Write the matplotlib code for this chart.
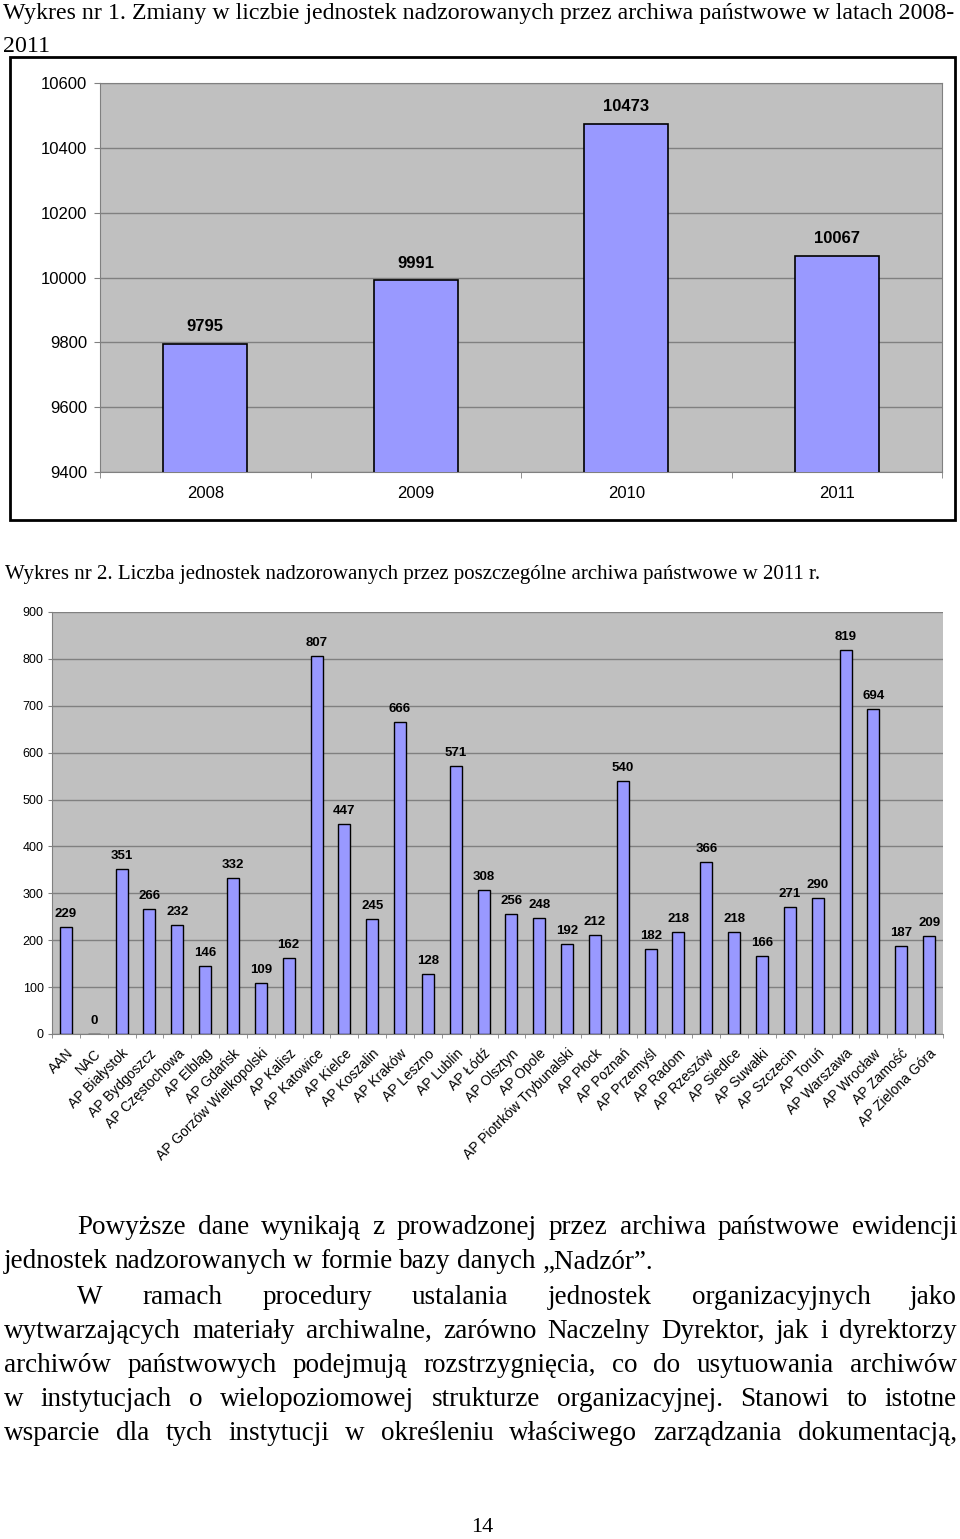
import matplotlib
matplotlib.use('Agg')
import matplotlib.pyplot as plt
import numpy as np
from matplotlib.patches import Rectangle

W, H = 960, 1539

years = ['2008', '2009', '2010', '2011']
units_by_year = [9795, 9991, 10473, 10067]

archives = ['AAN', 'NAC', 'AP Białystok', 'AP Bydgoszcz', 'AP Częstochowa', 'AP Elbląg',
            'AP Gdańsk', 'AP Gorzów Wielkopolski', 'AP Kalisz', 'AP Katowice', 'AP Kielce',
            'AP Koszalin', 'AP Kraków', 'AP Leszno', 'AP Lublin', 'AP Łódź', 'AP Olsztyn',
            'AP Opole', 'AP Piotrków Trybunalski', 'AP Płock', 'AP Poznań', 'AP Przemyśl',
            'AP Radom', 'AP Rzeszów', 'AP Siedlce', 'AP Suwałki', 'AP Szczecin', 'AP Toruń',
            'AP Warszawa', 'AP Wrocław', 'AP Zamość', 'AP Zielona Góra']
units_2011 = [229, 0, 351, 266, 232, 146, 332, 109, 162, 807, 447, 245, 666, 128, 571, 308,
              256, 248, 192, 212, 540, 182, 218, 366, 218, 166, 271, 290, 819, 694, 187, 209]

title1 = 'Wykres nr 1. Zmiany w liczbie jednostek nadzorowanych przez archiwa państwowe w latach 2008-'
title1b = '2011'
title2 = 'Wykres nr 2. Liczba jednostek nadzorowanych przez poszczególne archiwa państwowe w 2011 r.'

# (line, indented, justified)
paragraph = [
    ('Powyższe dane wynikają z prowadzonej przez archiwa państwowe ewidencji', True, True),
    ('jednostek nadzorowanych w formie bazy danych „Nadzór”.', False, False),
    ('W ramach procedury ustalania jednostek organizacyjnych jako', True, True),
    ('wytwarzających materiały archiwalne, zarówno Naczelny Dyrektor, jak i dyrektorzy', False, True),
    ('archiwów państwowych podejmują rozstrzygnięcia, co do usytuowania archiwów', False, True),
    ('w instytucjach o wielopoziomowej strukturze organizacyjnej. Stanowi to istotne', False, True),
    ('wsparcie dla tych instytucji w określeniu właściwego zarządzania dokumentacją,', False, True),
]

BAR = '#9999ff'
BG = '#c0c0c0'
GRID = '#808080'
SANS = 'Liberation Sans'
SERIF = 'Liberation Serif'


def box(x0, y0, x1, y1):
    """pixel box (top-left origin) -> figure rect"""
    return [x0 / W, 1 - y1 / H, (x1 - x0) / W, (y1 - y0) / H]


fig = plt.figure(figsize=(W / 100, H / 100), dpi=100)
fig.patch.set_facecolor('white')
renderer = fig.canvas.get_renderer()


def fit_text(x, y, s, width_px, **kw):
    t = fig.text(x / W, 1 - y / H, s, fontsize=10, va='center', ha='left', **kw)
    w = t.get_window_extent(renderer).width
    t.set_fontsize(10 * width_px / w)
    return t


def justified_line(s, x0, x1, y, fs, justify):
    words = s.split(' ')
    texts = [fig.text(0, 1 - y / H, w, fontsize=fs, family=SERIF, va='center', ha='left')
             for w in words]
    widths = [t.get_window_extent(renderer).width for t in texts]
    if justify and len(words) > 1:
        gap = (x1 - x0 - sum(widths)) / (len(words) - 1)
    else:
        gap = fs * 100 / 72 * 0.25
    x = x0
    for t, w in zip(texts, widths):
        t.set_x(x / W)
        x += w + gap


# ---- titles
t1 = fit_text(3, 14, title1, 952, family=SERIF)
fig.text(3 / W, 1 - 46 / H, title1b, fontsize=t1.get_fontsize(), family=SERIF,
         va='center', ha='left')
fit_text(5, 575, title2, 813, family=SERIF)

# ---- chart 1 frame
fig.patches.append(Rectangle((10 / W, 1 - 520 / H), 945 / W, 463 / H, transform=fig.transFigure,
                             fill=False, edgecolor='black', linewidth=2))

ax1 = fig.add_axes(box(100, 83, 942, 472))
ax1.set_facecolor(BG)
x = np.arange(len(years))
ax1.bar(x, units_by_year, width=0.4, color=BAR, edgecolor='black', linewidth=1.2, zorder=3)
ax1.set_ylim(9400, 10600)
ax1.set_xlim(-0.5, len(years) - 0.5)
ax1.set_yticks(np.arange(9400, 10601, 200))
ax1.grid(axis='y', color=GRID, linewidth=1, zorder=0)
ax1.set_xticks(x)
ax1.set_xticklabels(years)
ax1.set_xticks(np.arange(-0.5, len(years), 1), minor=True)
ax1.tick_params(axis='x', which='major', length=0, pad=10, labelsize=12)
ax1.tick_params(axis='x', which='minor', length=4, color=GRID)
ax1.tick_params(axis='y', length=4, color=GRID, pad=5, labelsize=12)
for lab in ax1.get_xticklabels() + ax1.get_yticklabels():
    lab.set_family(SANS)
for sp in ax1.spines.values():
    sp.set_color(GRID)
for xi, v in zip(x, units_by_year):
    ax1.annotate(str(v), (xi, v), xytext=(0, 7), textcoords='offset points', ha='center',
                 va='bottom', fontsize=12, fontweight='bold', family=SANS)

# ---- chart 2
ax2 = fig.add_axes(box(52, 612, 943, 1034))
ax2.set_facecolor(BG)
x2 = np.arange(len(archives))
ax2.bar(x2, units_2011, width=0.43, color=BAR, edgecolor='black', linewidth=1, zorder=3)
ax2.set_ylim(0, 900)
ax2.set_xlim(-0.5, len(archives) - 0.5)
ax2.set_yticks(np.arange(0, 901, 100))
ax2.grid(axis='y', color=GRID, linewidth=1, zorder=0)
ax2.set_xticks(x2)
ax2.set_xticklabels(archives, rotation=45, ha='right', rotation_mode='anchor')
ax2.set_xticks(np.arange(-0.5, len(archives), 1), minor=True)
ax2.tick_params(axis='x', which='major', length=0, pad=9, labelsize=10)
ax2.tick_params(axis='x', which='minor', length=3, color=GRID)
ax2.tick_params(axis='y', length=3, color=GRID, pad=3, labelsize=9)
for lab in ax2.get_xticklabels() + ax2.get_yticklabels():
    lab.set_family(SANS)
for sp in ax2.spines.values():
    sp.set_color(GRID)
ax2.spines['top'].set_visible(False)
ax2.spines['right'].set_visible(False)
for xi, v in zip(x2, units_2011):
    ax2.annotate(str(v), (xi, v), xytext=(0, 5), textcoords='offset points', ha='center',
                 va='bottom', fontsize=9.5, fontweight='bold', family=SANS)

# ---- body text
line_y = [1228, 1262, 1297, 1331, 1365, 1399, 1433]
for (s, indent, just), y in zip(paragraph, line_y):
    x0 = 77 if indent else 4
    justified_line(s, x0, 957, y, 19.5, just)

fig.text(482 / W, 1 - 1527 / H, '14', fontsize=16, family=SERIF, ha='center', va='center')

fig.savefig('out.png', dpi=100, facecolor='white')
